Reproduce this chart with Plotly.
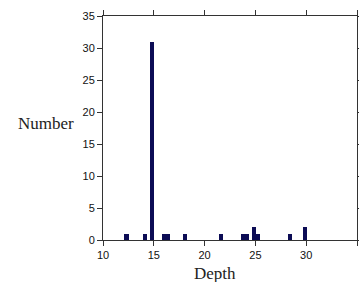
import plotly.graph_objects as go

depths = [12.3, 14.1, 14.85, 16.0, 16.4, 18.1, 21.6, 23.8, 24.2, 24.85, 25.25, 28.4, 29.85]
counts = [1, 1, 31, 1, 1, 1, 1, 1, 1, 2, 1, 1, 2]
x_ticks = [10, 15, 20, 25, 30, 35]
y_ticks = [0, 5, 10, 15, 20, 25, 30, 35]

fig = go.Figure()
fig.add_trace(go.Bar(x=depths, y=counts, width=0.42,
                     marker=dict(color="#0c0c55", line=dict(width=0))))

axis_common = dict(showline=True, linecolor="#333", linewidth=1, mirror="ticks",
                   ticks="outside", ticklen=5, tickcolor="#333", showgrid=False,
                   zeroline=False, automargin=False,
                   tickfont=dict(family="Liberation Sans, Arial", size=11, color="#111"))
fig.update_xaxes(range=[10, 35], tickvals=x_ticks, **axis_common)
fig.update_yaxes(range=[0, 35], tickvals=y_ticks, **axis_common)

fig.add_annotation(text="Number", xref="paper", yref="paper", x=-0.105, y=0.52,
                   xanchor="right", yanchor="middle", showarrow=False,
                   font=dict(family="Liberation Serif, Times New Roman", size=17, color="#222"))
fig.add_annotation(text="Depth", xref="paper", yref="paper", x=0.44, y=-0.15,
                   xanchor="center", yanchor="middle", showarrow=False,
                   font=dict(family="Liberation Serif, Times New Roman", size=17, color="#222"))

fig.update_layout(width=359, height=282, margin=dict(l=103, r=2, t=16, b=42),
                  plot_bgcolor="white", paper_bgcolor="white", showlegend=False,
                  bargap=0)
fig.write_html("out.html", config={"displayModeBar": False},
               post_script="document.body.style.margin='0';document.body.style.overflow='hidden';")
